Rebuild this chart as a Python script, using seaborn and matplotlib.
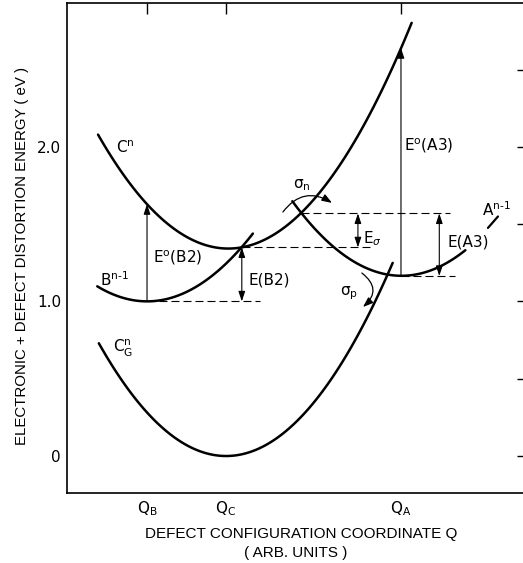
import matplotlib
matplotlib.use("Agg")
import matplotlib.pyplot as plt
import seaborn as sns
from matplotlib.patches import FancyArrowPatch

# ---------------- data ----------------
# configuration coordinate Q (arb. units) and energies (eV)
cg_q = [0.39, 1.0, 1.5, 2.0, 2.5, 3.0, 3.5, 4.11]          # C_G^n
cg_e = [0.73, 0.28, 0.07, 0.00, 0.07, 0.28, 0.63, 1.25]

cn_q = [0.38, 1.0, 1.5, 2.0, 2.5, 3.0, 3.5, 4.0, 4.35]     # C^n
cn_e = [2.08, 1.63, 1.42, 1.34, 1.40, 1.60, 1.93, 2.40, 2.80]

b_q = [0.37, 0.7, 1.0, 1.4, 1.8, 2.2, 2.34]                # B^{n-1}
b_e = [1.10, 1.02, 1.00, 1.04, 1.16, 1.35, 1.44]

a_q = [2.84, 3.2, 3.6, 4.0, 4.215, 4.5, 5.03]              # A^{n-1}
a_e = [1.65, 1.43, 1.26, 1.18, 1.165, 1.19, 1.33]

q_ticks = [1.0, 2.0, 4.215]
q_tick_labels = [r"$\mathrm{Q_B}$", r"$\mathrm{Q_C}$", r"$\mathrm{Q_A}$"]
e_ticks = [0.0, 0.5, 1.0, 1.5, 2.0, 2.5]
e_tick_labels = ["0", "", "1.0", "", "2.0", ""]

# characteristic levels (eV)
e_b_min = 1.00
e_c_min = 1.35
e_cross = 1.57
e_a_min = 1.165
e_c_at_qb = 1.63
e_c_at_qa = 2.64
q_eb2 = 2.2
q_esig = 3.67
q_ea3 = 4.70

# ---------------- styling ----------------
sns.set_theme(style="white")
plt.rcParams["font.family"] = ["DejaVu Sans"]
plt.rcParams["mathtext.fontset"] = "dejavusans"
plt.rcParams["text.color"] = "black"
AXFONT = ["Liberation Sans", "DejaVu Sans"]

W, H = 523, 563
fig = plt.figure(figsize=(W / 100, H / 100), dpi=100)
ax = fig.add_axes([67 / W, 70 / H, 461 / W, 490 / H])

CURVE = dict(color="black", lw=1.8)
for qq, ee in [(cg_q, cg_e), (cn_q, cn_e), (b_q, b_e), (a_q, a_e)]:
    sns.regplot(x=qq, y=ee, order=2, ci=None, scatter=False, truncate=True,
                line_kws=CURVE, ax=ax)

ax.set_xlim(-0.013, 5.823)
ax.set_ylim(-0.24, 2.932)

# dashed reference levels
DASH = dict(color="black", lw=0.8, linestyle=(0, (7.2, 3.6)))
ax.plot([1.0, 2.43], [e_b_min, e_b_min], **DASH)
ax.plot([q_eb2, 3.83], [e_c_min, e_c_min], **DASH)
ax.plot([2.95, 4.84], [e_cross, e_cross], **DASH)
ax.plot([q_ticks[2], 4.90], [e_a_min, e_a_min], **DASH)


def varrow(x, y0, y1, both=False):
    style = ("<|-|>" if both else "-|>") + ",head_length=0.6,head_width=0.2"
    ax.add_patch(FancyArrowPatch((x, y0), (x, y1), arrowstyle=style,
                                 mutation_scale=10, lw=0.8, color="black",
                                 shrinkA=0, shrinkB=0))


varrow(q_ticks[0], e_b_min, e_c_at_qb)
varrow(q_eb2, e_b_min, e_c_min, both=True)
varrow(q_esig, e_c_min, e_cross, both=True)
varrow(q_ea3, e_a_min, e_cross, both=True)
varrow(q_ticks[2], e_a_min, e_c_at_qa)

# curved capture arrows
ax.add_patch(FancyArrowPatch((2.72, 1.579), (3.342, 1.638),
                             connectionstyle="arc3,rad=-0.45",
                             arrowstyle="-|>,head_length=0.6,head_width=0.22",
                             mutation_scale=10, lw=0.9, color="black",
                             shrinkA=0, shrinkB=0))
ax.add_patch(FancyArrowPatch((3.72, 1.184), (3.734, 0.964),
                             connectionstyle="arc3,rad=-0.6",
                             arrowstyle="-|>,head_length=0.6,head_width=0.22",
                             mutation_scale=10, lw=0.9, color="black",
                             shrinkA=0, shrinkB=0))

# A^{n-1} leader
ax.plot([5.316, 5.443], [1.476, 1.55], color="black", lw=1.6)

# labels
FS = 11
T = dict(fontsize=FS, color="black")
ax.text(0.61, 1.961, r"C$^\mathrm{n}$", ha="left", va="baseline", **T)
ax.text(0.40, 1.10, "B$^\\mathrm{n\u2010 1}$", ha="left", va="baseline", **T)
ax.text(0.57, 0.667, r"C$^\mathrm{n}_\mathrm{G}$", ha="left", va="baseline", **T)
ax.text(1.076, 1.28, r"E$^\mathrm{o}$(B2)", ha="left", va="center", **T)
ax.text(2.28, 1.139, "E(B2)", ha="left", va="center", **T)
ax.text(2.85, 1.735, r"σ$_\mathrm{n}$", ha="left", va="baseline", **T)
ax.text(3.73, 1.379, r"E$_\sigma$", ha="left", va="baseline", **T)
ax.text(4.25, 2.006, r"E$^\mathrm{o}$(A3)", ha="left", va="center", **T)
ax.text(4.81, 1.385, "E(A3)", ha="left", va="center", **T)
ax.text(5.24, 1.555, "A$^\\mathrm{n\u20101}$", ha="left", va="baseline", **T)
ax.text(3.44, 1.042, r"σ$_\mathrm{p}$", ha="left", va="baseline", **T)

# axes, ticks
for s in ax.spines.values():
    s.set_visible(True)
    s.set_color("black")
    s.set_linewidth(1.2)
ax.set_xticks(q_ticks)
ax.set_xticklabels(q_tick_labels)
ax.set_yticks(e_ticks)
ax.set_yticklabels(e_tick_labels)
ax.tick_params(axis="both", direction="in", length=8, width=1.0, color="black",
               top=True, right=True, labeltop=False, labelright=False,
               labelsize=11, labelcolor="black")
ax.tick_params(axis="y", pad=4.3)
ax.tick_params(axis="x", pad=4.5)
ax.set_xlabel("")
ax.set_ylabel("")
ax.grid(False)

fig.text(22 / W, 1 - 256 / H, "ELECTRONIC + DEFECT DISTORTION ENERGY ( eV )",
         rotation=90, ha="center", va="center", fontsize=10.8, family=AXFONT)
fig.text(301 / W, 1 - 538 / H, "DEFECT CONFIGURATION COORDINATE Q",
         ha="center", va="baseline", fontsize=11, family=AXFONT)
fig.text(296 / W, 1 - 557 / H, "( ARB. UNITS )",
         ha="center", va="baseline", fontsize=11, family=AXFONT)

fig.savefig("out.png", dpi=100, facecolor="white")
